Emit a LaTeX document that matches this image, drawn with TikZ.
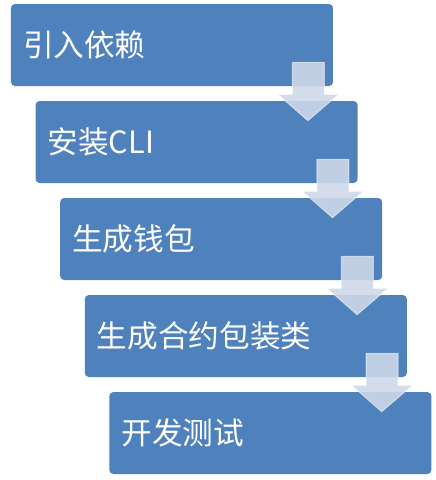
\documentclass[tikz,border=0pt]{standalone}
\usepackage{fontspec}
\newfontfamily\cjk{Noto Sans CJK SC}
\usetikzlibrary{calc}
\definecolor{stepblue}{RGB}{79,129,189}
\definecolor{arrowgrey}{RGB}{206,216,233}
\tikzset{
  stepbox/.style={rectangle, rounded corners=3pt, fill=stepblue, text=white,
                  minimum width=241.5pt, minimum height=61.5pt, text width=223.5pt,
                  inner xsep=9pt, align=left, font=\cjk\fontsize{23}{27}\selectfont},
  downarrow/.style={fill=arrowgrey, fill opacity=0.9, draw=white, draw opacity=0.5,
                    line width=0.75pt}
}

\begin{document}
\begin{tikzpicture}[x=0.75pt,y=-0.75pt]
    \useasboundingbox (0,0) rectangle (436,480);
    % Draw steps
    \foreach \i/\txt in {0/引入依赖,1/安装CLI,2/生成钱包,3/生成合约包装类,4/开发测试}
      \node[stepbox] (b\i) at ({172+24.6*\i},{45+97*\i}) {\txt};
    % Draw arrows between steps
    \foreach \i [count=\j] in {0,...,3}
      \draw[downarrow] ($(b\i.south east)+(-41,-24)$) -- ($(b\i.south east)+(-9,-24)$)
            -- ($(b\i.south east)+(-9,8)$) -- ($(b\i.south east)+(5.5,8)$)
            -- ($(b\j.north east)+(-50,20)$)
            -- ($(b\i.south east)+(-55.5,8)$) -- ($(b\i.south east)+(-41,8)$) -- cycle;
\end{tikzpicture}
\end{document}
